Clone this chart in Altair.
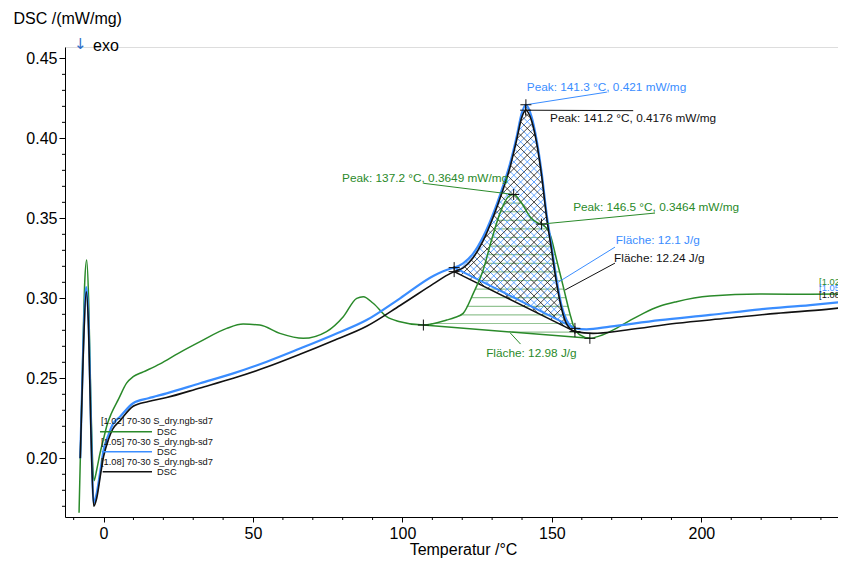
import altair as alt
import numpy as np
import pandas as pd

# ---------------- data ----------------
green_t = [-8.2, -7.2, -6.3, -5.65, -5.0, -4.3, -3.6, -3.2, -2.3, -1.2, -0.1, 1.2, 2.6, 5.0, 7.7, 9.9,
           13.3, 18.9, 25.0, 32.3, 41.2, 46.7, 52.3, 59.0, 66.8, 74.6, 80.2, 84.7, 86.9, 90.2, 94.7,
           99.2, 107.0, 114.8, 117.5, 120.3, 123.7, 127.0, 129.8, 132.6, 135.4, 137.2, 139.9, 142.7,
           145.4, 146.5, 149.3, 151.6, 153.8, 156.0, 157.5, 159.4, 162.7, 166.0, 169.4, 175.0, 180.6,
           186.0, 191.7, 202.9, 219.6, 236.4, 248.4]
green_y = [0.166, 0.245, 0.310, 0.324, 0.300, 0.240, 0.195, 0.186, 0.1927, 0.203, 0.2114, 0.221, 0.228,
           0.237, 0.247, 0.251, 0.254, 0.259, 0.2656, 0.2729, 0.2812, 0.2839, 0.2833, 0.2781, 0.2750,
           0.2792, 0.2885, 0.3000, 0.3010, 0.2969, 0.2885, 0.2854, 0.2833, 0.2864, 0.2880, 0.2906,
           0.3031, 0.3177, 0.3364, 0.3531, 0.3635, 0.3649, 0.3594, 0.3510, 0.3469, 0.3464, 0.3404,
           0.3239, 0.3073, 0.2906, 0.2812, 0.2771, 0.2750, 0.2765, 0.2792, 0.2850, 0.2906, 0.2950,
           0.2979, 0.3014, 0.3027, 0.3025, 0.3027]

blue_t = [-7.8, -6.8, -5.8, -5.0, -4.2, -3.3, -2.3, -1.0, 0.0, 1.7, 3.0, 5.5, 9.9, 15.0, 21.1, 32.3,
          43.4, 54.6, 65.7, 76.8, 88.0, 99.2, 110.3, 115.9, 117.3, 120.3, 123.7, 127.0, 130.4, 133.2,
          136.0, 138.2, 139.9, 141.3, 143.2, 144.9, 146.6, 148.2, 149.9, 151.6, 153.3, 154.9, 157.7,
          161.6, 169.4, 186.1, 202.9, 219.6, 236.4, 248.4]
blue_y = [0.200, 0.270, 0.307, 0.285, 0.220, 0.172, 0.178, 0.193, 0.205, 0.215, 0.221, 0.226, 0.2344,
          0.2375, 0.2406, 0.2469, 0.2531, 0.2604, 0.2686, 0.2771, 0.2864, 0.3000, 0.3140, 0.3185,
          0.3192, 0.3219, 0.3281, 0.3385, 0.3531, 0.3677, 0.3842, 0.4010, 0.4156, 0.4210, 0.4135,
          0.3989, 0.3781, 0.3531, 0.3323, 0.3114, 0.2948, 0.2864, 0.2812, 0.2806, 0.2823, 0.2864,
          0.2896, 0.2931, 0.2958, 0.2980]

black_t = [-7.8, -6.8, -5.8, -5.0, -4.2, -3.3, -2.3, -1.0, 0.0, 1.7, 3.0, 5.5, 9.9, 15.0, 21.1, 32.3,
           43.4, 54.6, 65.7, 76.8, 88.0, 99.2, 110.3, 114.5, 117.3, 120.3, 123.7, 127.0, 130.4, 133.2,
           136.0, 138.2, 139.9, 141.2, 143.2, 144.9, 146.6, 148.2, 149.9, 151.6, 153.3, 154.9, 157.7,
           163.8, 175.0, 191.7, 208.5, 225.2, 241.9, 248.4]
black_y = [0.200, 0.265, 0.304, 0.280, 0.215, 0.170, 0.175, 0.190, 0.201, 0.212, 0.218, 0.2235, 0.2325,
           0.2355, 0.2380, 0.2440, 0.2500, 0.2570, 0.2650, 0.2735, 0.2825, 0.2955, 0.3090, 0.3140,
           0.3167, 0.3190, 0.3255, 0.3360, 0.3510, 0.3655, 0.3820, 0.3990, 0.4130, 0.4176, 0.4110,
           0.3970, 0.3760, 0.3510, 0.3300, 0.3090, 0.2930, 0.2840, 0.2792, 0.2781, 0.2802, 0.2844,
           0.2875, 0.2906, 0.2931, 0.2944]

# integration limits (°C) of the evaluated peaks
green_limits = [107.0, 162.7]
blue_limits = [117.3, 157.7]
black_limits = [117.3, 157.7]

# peak results
peak_t = [141.3, 141.2, 137.2, 146.5]
peak_y = [0.421, 0.4176, 0.3649, 0.3464]

# annotation texts
ann_text = ["Peak: 141.3 °C, 0.421 mW/mg", "Peak: 141.2 °C, 0.4176 mW/mg",
            "Peak: 137.2 °C, 0.3649 mW/mg", "Peak: 146.5 °C, 0.3464 mW/mg",
            "Fläche: 12.1 J/g", "Fläche: 12.24 J/g", "Fläche: 12.98 J/g"]
ann_t = [141.6, 149.4, 79.8, 157.1, 171.4, 170.8, 128.0]
ann_y = [0.4321, 0.4125, 0.3750, 0.3570, 0.3364, 0.3252, 0.2658]
ann_c = ["b", "k", "g", "g", "b", "k", "g"]

lead_t = [141.3, 141.2, 107.0, 184.5, 171.1, 171.1, 136.0]
lead_y = [0.421, 0.4176, 0.3719, 0.3533, 0.3320, 0.3220, 0.2785]
lead_t2 = [168.4, 177.2, 137.2, 146.5, 151.7, 154.4, 139.5]
lead_y2 = [0.4289, 0.4173, 0.3649, 0.3464, 0.3096, 0.3052, 0.2714]
lead_c = ["b", "k", "g", "g", "b", "k", "g"]

leg_text = ["[1.02] 70-30 S_dry.ngb-sd7", "[1.05] 70-30 S_dry.ngb-sd7", "[1.08] 70-30 S_dry.ngb-sd7"]
leg_text_t = [-0.87, -0.87, -0.87]
leg_text_y = [0.2233, 0.2102, 0.1977]
leg_line_t = [-1.2, -0.6, -0.3]
leg_line_t2 = [16.2, 16.2, 16.2]
leg_line_y = [0.2166, 0.2041, 0.1916]
leg_dsc_t = [17.9, 17.9, 17.9]
leg_c = ["g", "b", "k"]

edge_t = [239.4, 239.4, 239.4]
edge_y = [0.3104, 0.3063, 0.3021]

x_major = [0, 50, 100, 150, 200]
x_minor = [-10, 10, 20, 30, 40, 60, 70, 80, 90, 110, 120, 130, 140, 160, 170, 180, 190, 210, 220, 230, 240]
y_major = [0.20, 0.25, 0.30, 0.35, 0.40, 0.45]
y_minor = [0.17, 0.18, 0.19, 0.21, 0.22, 0.23, 0.24, 0.26, 0.27, 0.28, 0.29, 0.31, 0.32, 0.33, 0.34,
           0.36, 0.37, 0.38, 0.39, 0.41, 0.42, 0.43, 0.44]

# ---------------- styling ----------------
GREEN = "#2a8a2a"
BLUE = "#3a8dff"
BLACK = "#111111"
CMAP = {"g": GREEN, "b": BLUE, "k": BLACK}
FONT = "Liberation Sans"

W, H = 773, 470
PX_PER_DEG = 2.989
X_MIN = -12.9
X_MAX = X_MIN + W / PX_PER_DEG
Y_MIN, Y_MAX = 0.1633, 0.4571
SX = W / (X_MAX - X_MIN)
SY = H / (Y_MAX - Y_MIN)

xs = alt.Scale(domain=[X_MIN, X_MAX], nice=False, zero=False)
ys = alt.Scale(domain=[Y_MIN, Y_MAX], nice=False, zero=False)


def hatch(ts, yv, lim, slopes, step, offset):
    ts = np.asarray(ts, float)
    yv = np.asarray(yv, float)
    t0, t1 = lim
    inner = (ts > t0) & (ts < t1)
    pt = np.concatenate([[t0], ts[inner], [t1]])
    py = np.concatenate([[np.interp(t0, ts, yv)], yv[inner], [np.interp(t1, ts, yv)]])
    u = (pt - X_MIN) * SX
    v = (py - Y_MIN) * SY
    u = np.append(u, u[0])
    v = np.append(v, v[0])
    rows = []
    for k in slopes:
        g = v - k * u
        c = np.floor(g.min() / step) * step + offset
        while c < g.max():
            pts = []
            for i in range(len(u) - 1):
                a, b = g[i] - c, g[i + 1] - c
                if (a < 0) != (b < 0):
                    s = a / (a - b)
                    pts.append((u[i] + s * (u[i + 1] - u[i]), v[i] + s * (v[i + 1] - v[i])))
            pts.sort()
            for j in range(0, len(pts) - 1, 2):
                (ua, va), (ub, vb) = pts[j], pts[j + 1]
                rows.append({"t": ua / SX + X_MIN, "y": va / SY + Y_MIN,
                             "t2": ub / SX + X_MIN, "y2": vb / SY + Y_MIN})
            c += step
    return pd.DataFrame(rows)


def baseline(ts, yv, lim):
    return pd.DataFrame({"t": [lim[0]], "y": [float(np.interp(lim[0], ts, yv))],
                         "t2": [lim[1]], "y2": [float(np.interp(lim[1], ts, yv))]})


def seg_layer(df, color, width, opacity=1.0):
    return alt.Chart(df).mark_rule(color=color, strokeWidth=width, opacity=opacity).encode(
        x=alt.X("t:Q", scale=xs), y=alt.Y("y:Q", scale=ys), x2="t2:Q", y2="y2:Q")


green_hatch = hatch(green_t, green_y, green_limits, [0.0], 8.6, 4.3)
blue_hatch = hatch(blue_t, blue_y, blue_limits, [1.0, -1.0], 13.4, 0.0)
black_hatch = hatch(black_t, black_y, black_limits, [1.0, -1.0], 13.4, 6.7)

xaxis = alt.Axis(values=x_major, tickSize=5, tickColor="black", domainColor="black", labelColor="black",
                 labelFont=FONT, labelFontSize=16, labelPadding=3, grid=False,
                 title="Temperatur /°C", titleFont=FONT, titleFontSize=16, titleFontWeight="normal",
                 titleColor="black", titleX=398, titleY=24, titleAlign="center")
yaxis = alt.Axis(values=y_major, format=".2f", tickSize=6, tickColor="black", domainColor="black",
                 labelColor="black", labelFont=FONT, labelFontSize=16, labelPadding=2, grid=False,
                 title="DSC /(mW/mg)", titleFont=FONT, titleFontSize=16, titleFontWeight="normal",
                 titleColor="black", titleAngle=0, titleAlign="left", titleBaseline="middle",
                 titleX=-52, titleY=-29)


def curve(ts, yv, color, width):
    df = pd.DataFrame({"t": ts, "y": yv})
    return alt.Chart(df).mark_line(color=color, strokeWidth=width, interpolate="monotone").encode(
        x=alt.X("t:Q", scale=xs, axis=xaxis), y=alt.Y("y:Q", scale=ys, axis=yaxis))


# crosshair markers: peaks + integration limits
cross_t = list(peak_t)
cross_y = list(peak_y)
for ts_, yv_, lim in [(green_t, green_y, green_limits), (blue_t, blue_y, blue_limits),
                      (black_t, black_y, black_limits)]:
    for L in lim:
        cross_t.append(L)
        cross_y.append(float(np.interp(L, ts_, yv_)))
cross_df = pd.DataFrame({"t": cross_t, "y": cross_y})
crosses = alt.Chart(cross_df).mark_point(shape="M-1,0L1,0M0,-1L0,1", size=121, filled=False,
                                         color=BLACK, strokeWidth=1, opacity=1).encode(
    x=alt.X("t:Q", scale=xs), y=alt.Y("y:Q", scale=ys))

ann_df = pd.DataFrame({"t": ann_t, "y": ann_y, "s": ann_text, "c": [CMAP[c] for c in ann_c]})
ann = alt.Chart(ann_df).mark_text(align="left", baseline="middle", font=FONT, fontSize=11.8).encode(
    x=alt.X("t:Q", scale=xs), y=alt.Y("y:Q", scale=ys), text="s:N", color=alt.Color("c:N", scale=None))

lead_df = pd.DataFrame({"t": lead_t, "y": lead_y, "t2": lead_t2, "y2": lead_y2,
                        "c": [CMAP[c] for c in lead_c]})
leads = alt.Chart(lead_df).mark_rule(strokeWidth=1).encode(
    x=alt.X("t:Q", scale=xs), y=alt.Y("y:Q", scale=ys), x2="t2:Q", y2="y2:Q",
    color=alt.Color("c:N", scale=None))

leg_df = pd.DataFrame({"t": leg_text_t, "y": leg_text_y, "s": leg_text})
leg_txt = alt.Chart(leg_df).mark_text(align="left", baseline="middle", font=FONT, fontSize=9.3,
                                      color=BLACK).encode(
    x=alt.X("t:Q", scale=xs), y=alt.Y("y:Q", scale=ys), text="s:N")
legl_df = pd.DataFrame({"t": leg_line_t, "t2": leg_line_t2, "y": leg_line_y,
                        "c": [CMAP[c] for c in leg_c]})
leg_lines = alt.Chart(legl_df).mark_rule(strokeWidth=1.5).encode(
    x=alt.X("t:Q", scale=xs), x2="t2:Q", y=alt.Y("y:Q", scale=ys), color=alt.Color("c:N", scale=None))
dsc_df = pd.DataFrame({"t": leg_dsc_t, "y": leg_line_y, "s": ["DSC"] * 3})
leg_dsc = alt.Chart(dsc_df).mark_text(align="left", baseline="middle", font=FONT, fontSize=9.3,
                                      color=BLACK).encode(
    x=alt.X("t:Q", scale=xs), y=alt.Y("y:Q", scale=ys), text="s:N")

edge_df = pd.DataFrame({"t": edge_t, "y": edge_y, "s": leg_text, "c": [CMAP[c] for c in leg_c]})
edge = alt.Chart(edge_df).mark_text(align="left", baseline="middle", font=FONT, fontSize=9.3).encode(
    x=alt.X("t:Q", scale=xs), y=alt.Y("y:Q", scale=ys), text="s:N", color=alt.Color("c:N", scale=None))

xminor = alt.Chart(pd.DataFrame({"t": x_minor})).mark_rule(color="black", strokeWidth=1).encode(
    x=alt.X("t:Q", scale=xs), y=alt.value(H), y2=alt.value(H + 3))
yminor = alt.Chart(pd.DataFrame({"y": y_minor})).mark_rule(color="black", strokeWidth=1).encode(
    y=alt.Y("y:Q", scale=ys), x=alt.value(-3), x2=alt.value(0))

arrow = alt.Chart(pd.DataFrame({"s": ["↓"]})).mark_text(
    align="left", baseline="middle", font="DejaVu Sans", fontSize=15, color="#2f6fc8").encode(
    text="s:N", x=alt.value(9), y=alt.value(-3))
exo = alt.Chart(pd.DataFrame({"s": ["exo"]})).mark_text(
    align="left", baseline="middle", font=FONT, fontSize=16, color="black").encode(
    text="s:N", x=alt.value(28), y=alt.value(-1))

chart = alt.layer(
    seg_layer(green_hatch, GREEN, 1.2, 0.5),
    seg_layer(blue_hatch, BLUE, 0.8),
    seg_layer(black_hatch, BLACK, 0.8),
    seg_layer(baseline(green_t, green_y, green_limits), GREEN, 1.5),
    seg_layer(baseline(blue_t, blue_y, blue_limits), BLUE, 2),
    seg_layer(baseline(black_t, black_y, black_limits), BLACK, 1.5),
    curve(green_t, green_y, GREEN, 1.5),
    curve(blue_t, blue_y, BLUE, 2.2),
    curve(black_t, black_y, BLACK, 1.6),
    leads, ann, crosses,
    leg_lines, leg_txt, leg_dsc, edge,
    xminor, yminor, arrow, exo,
).properties(
    width=W, height=H,
    autosize=alt.AutoSizeParams(type="none"),
    padding={"left": 57, "top": 39, "right": 0, "bottom": 43},
).configure_view(strokeWidth=0).configure(background="white")

chart.save("out.html", embed_options={"renderer": "svg", "actions": False})
